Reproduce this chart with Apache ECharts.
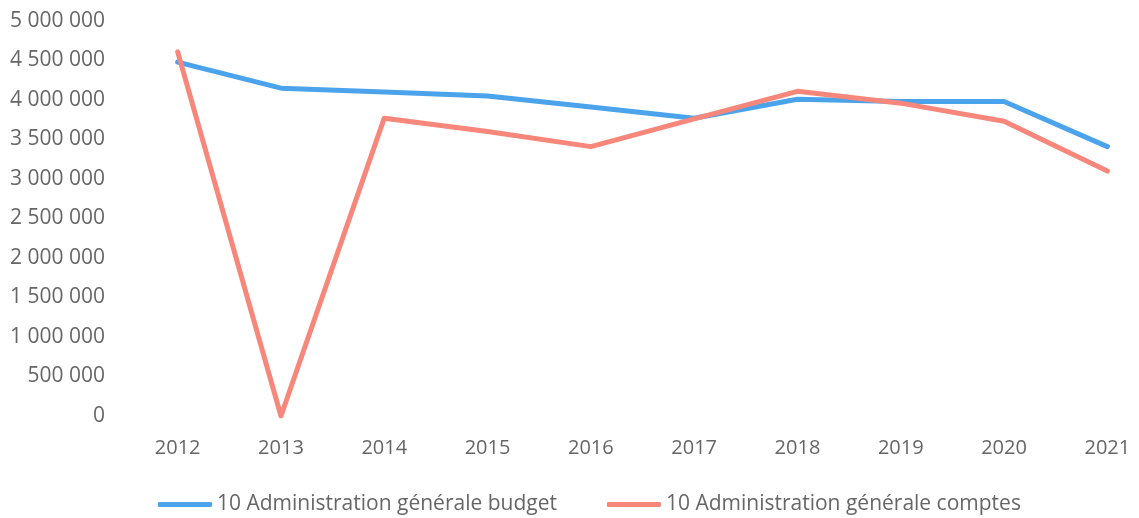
<!DOCTYPE html>
<html>
<head>
<meta charset="utf-8">
<script src="https://cdn.jsdelivr.net/npm/echarts@6/dist/echarts.min.js"></script>
<style>
  html, body { margin: 0; padding: 0; background: #ffffff; overflow: hidden; }
  #chart { width: 1159px; height: 518px; }
</style>
</head>
<body>
<div id="chart"></div>
<script>
// Years on the horizontal axis
const years = ['2012', '2013', '2014', '2015', '2016', '2017', '2018', '2019', '2020', '2021'];

// Series names
const budgetName = '10 Administration générale budget';
const comptesName = '10 Administration générale comptes';

// Budgeted amounts per year
const budgetValues = [4480000, 4150000, 4100000, 4050000, 3910000, 3770000, 4010000, 3980000, 3980000, 3410000];

// Actual accounts per year
const comptesValues = [4610000, 0, 3770000, 3600000, 3410000, 3760000, 4110000, 3960000, 3730000, 3100000];

// Vertical axis range and tick step
const yMin = 0;
const yMax = 5000000;
const yStep = 500000;

// French-style thousands grouping with spaces
function groupThousands(v) {
  return String(Math.round(v)).replace(/\B(?=(\d{3})+(?!\d))/g, ' ');
}

const labelFont = "'Open Sans', 'DejaVu Sans', sans-serif";
const labelColor = '#666666';
const blue = '#4BA3EC';
const salmon = '#F7877A';

const chart = echarts.init(document.getElementById('chart'), null, { renderer: 'canvas' });

chart.setOption({
  backgroundColor: '#ffffff',
  animation: false,
  grid: { left: 126, right: 0, top: 21, bottom: 102, containLabel: false },
  legend: {
    data: [
      { name: budgetName, icon: 'roundRect' },
      { name: comptesName, icon: 'roundRect' }
    ],
    left: 153,
    top: 489,
    itemWidth: 54,
    itemHeight: 5,
    itemGap: 50,
    textStyle: { fontFamily: labelFont, fontSize: 21, color: labelColor }
  },
  xAxis: {
    type: 'category',
    data: years,
    boundaryGap: true,
    axisLine: { show: false },
    axisTick: { show: false },
    splitLine: { show: false },
    axisLabel: { margin: 22, fontFamily: labelFont, fontSize: 20, color: labelColor }
  },
  yAxis: {
    type: 'value',
    min: yMin,
    max: yMax,
    interval: yStep,
    axisLine: { show: false },
    axisTick: { show: false },
    splitLine: { show: false },
    axisLabel: {
      margin: 21,
      fontFamily: labelFont,
      fontSize: 21,
      color: labelColor,
      formatter: groupThousands
    }
  },
  series: [
    {
      name: budgetName,
      type: 'line',
      data: budgetValues,
      symbol: 'none',
      lineStyle: { width: 5, color: blue, join: 'round', cap: 'round' },
      itemStyle: { color: blue },
      z: 2
    },
    {
      name: comptesName,
      type: 'line',
      data: comptesValues,
      symbol: 'none',
      lineStyle: { width: 5, color: salmon, join: 'round', cap: 'round' },
      itemStyle: { color: salmon },
      z: 3
    }
  ]
});
</script>
</body>
</html>
